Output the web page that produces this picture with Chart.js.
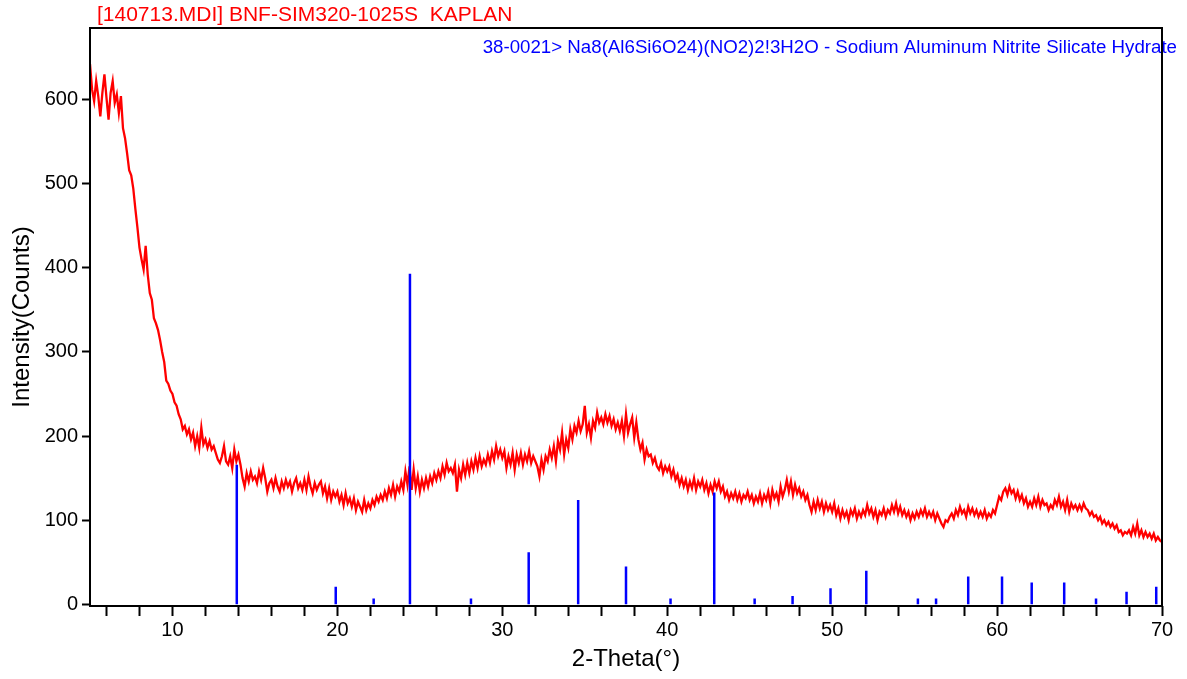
<!DOCTYPE html>
<html>
<head>
<meta charset="utf-8">
<title>XRD pattern</title>
<script src="https://cdn.jsdelivr.net/npm/chart.js@4/dist/chart.umd.min.js"></script>
<style>
  html, body { margin: 0; padding: 0; background: #fff; }
  #wrap { width: 1187px; height: 679px; position: relative; }
</style>
</head>
<body>
<div id="wrap"><canvas id="xrdChart"></canvas></div>
<script>
// Scan: 2-theta from 5 to 70 deg, one reading every 0.125 deg (8 per row)
const twoThetaStart = 5;
const twoThetaStep = 0.125;
const counts = [
  642, 612, 598, 622, 604, 580, 608, 630,   // 5
  602, 576, 608, 622, 596, 606, 584, 604,   // 6
  566, 554, 536, 516, 510, 494, 470, 448,   // 7
  424, 410, 398, 426, 392, 370, 362, 340,   // 8
  334, 326, 314, 300, 288, 266, 262, 254,   // 9
  250, 240, 236, 226, 220, 208, 212, 202,   // 10
  208, 196, 204, 188, 200, 186, 210, 190,   // 11
  196, 186, 194, 184, 188, 180, 172, 168,   // 12
  176, 188, 170, 166, 176, 162, 184, 170,   // 13
  178, 166, 150, 140, 156, 146, 158, 148,   // 14
  152, 144, 158, 148, 162, 150, 134, 144,   // 15
  148, 138, 150, 140, 134, 146, 138, 148,   // 16
  140, 146, 134, 144, 150, 138, 144, 136,   // 17
  148, 136, 152, 140, 132, 144, 136, 142,   // 18
  146, 132, 140, 126, 138, 124, 134, 128,   // 19
  134, 122, 130, 118, 132, 120, 126, 116,   // 20
  126, 112, 122, 116, 110, 124, 112, 120,   // 21
  114, 124, 118, 128, 122, 130, 124, 134,   // 22
  126, 138, 130, 142, 128, 140, 134, 146,   // 23
  136, 158, 142, 164, 136, 160, 138, 152,   // 24
  134, 148, 138, 150, 140, 152, 144, 156,   // 25
  148, 158, 150, 164, 154, 168, 158, 162,   // 26
  156, 166, 134, 160, 150, 166, 154, 168,   // 27
  156, 170, 160, 174, 162, 176, 164, 172,   // 28
  166, 178, 168, 182, 172, 188, 176, 184,   // 29
  174, 182, 162, 176, 166, 180, 160, 178,   // 30
  168, 180, 166, 178, 170, 182, 168, 176,   // 31
  170, 164, 152, 172, 160, 176, 170, 184,   // 32
  174, 188, 170, 194, 184, 204, 178, 196,   // 33
  186, 208, 196, 212, 204, 218, 206, 214,   // 34
  236, 204, 214, 198, 218, 210, 228, 216,   // 35
  222, 214, 226, 216, 224, 212, 220, 208,   // 36
  216, 206, 218, 200, 226, 204, 214, 222,   // 37
  198, 216, 196, 184, 192, 172, 184, 176,   // 38
  178, 168, 174, 164, 160, 168, 156, 164,   // 39
  158, 164, 152, 160, 148, 154, 142, 150,   // 40
  140, 148, 136, 146, 138, 150, 136, 146,   // 41
  140, 148, 136, 144, 132, 142, 134, 146,   // 42
  138, 146, 134, 140, 128, 134, 124, 132,   // 43
  126, 134, 124, 132, 122, 130, 126, 134,   // 44
  124, 130, 120, 128, 122, 132, 120, 130,   // 45
  124, 134, 120, 136, 126, 132, 122, 140,   // 46
  128, 136, 148, 134, 146, 130, 142, 132,   // 47
  138, 128, 134, 124, 130, 118, 110, 122,   // 48
  112, 124, 114, 122, 110, 120, 112, 118,   // 49
  110, 120, 106, 114, 102, 112, 104, 110,   // 50
  100, 112, 106, 114, 102, 110, 104, 112,   // 51
  106, 118, 108, 114, 104, 112, 100, 110,   // 52
  106, 114, 104, 112, 108, 118, 110, 120,   // 53
  108, 116, 106, 112, 104, 110, 100, 108,   // 54
  102, 110, 104, 112, 106, 114, 104, 110,   // 55
  104, 110, 100, 108, 102, 96, 92, 100,     // 56
  98, 104, 108, 102, 112, 106, 116, 108,    // 57
  112, 104, 116, 108, 114, 106, 112, 104,   // 58
  110, 104, 112, 102, 108, 104, 112, 108,   // 59
  118, 128, 124, 134, 138, 130, 140, 132,   // 60
  136, 126, 134, 124, 130, 120, 126, 116,   // 61
  122, 116, 126, 118, 128, 116, 124, 118,   // 62
  120, 112, 118, 114, 124, 118, 128, 116,   // 63
  122, 112, 124, 110, 120, 114, 118, 112,   // 64
  118, 112, 120, 114, 112, 106, 110, 104,   // 65
  106, 100, 104, 96, 100, 94, 98, 92,       // 66
  96, 90, 94, 86, 88, 82, 86, 84,           // 67
  88, 82, 92, 84, 96, 82, 88, 80,           // 68
  86, 80, 84, 78, 84, 76, 80, 76,           // 69
  74                                        // 70
];

// reference card 38-0021 stick lines
const refPositions = [13.9, 19.9, 22.2, 24.4, 28.1, 31.6, 34.6, 37.5, 40.2, 42.85, 45.3, 47.6,
  49.9, 52.07, 55.2, 56.3, 58.25, 60.3, 62.1, 64.07, 66.0, 67.85, 69.65];
const refHeights = [166, 21, 7, 393, 7, 62, 124, 45, 7, 133, 7, 10,
  19, 40, 7, 7, 33, 33, 26, 26, 7, 15, 21];

const xLabelValues = [10, 20, 30, 40, 50, 60, 70];
const yTickValues = [0, 100, 200, 300, 400, 500, 600];

const sampleTitle = "[140713.MDI] BNF-SIM320-1025S  KAPLAN";
const refCardLabel = "38-0021> Na8(Al6Si6O24)(NO2)2!3H2O - Sodium Aluminum Nitrite Silicate Hydrate";

const FONT = '"Liberation Sans", Arial, sans-serif';

const scanData = counts.map((c, i) => ({ x: twoThetaStart + i * twoThetaStep, y: c }));

const stickData = [];
refPositions.forEach((p, i) => {
  stickData.push({ x: p, y: 0 });
  stickData.push({ x: p, y: refHeights[i] });
  stickData.push({ x: p, y: null });
});

// box round the plot and the two header texts
const frameAndLabels = {
  id: "frameAndLabels",
  afterDraw(chart) {
    const { ctx, chartArea } = chart;
    ctx.save();
    ctx.textBaseline = "middle";
    ctx.font = "21px " + FONT;
    ctx.fillStyle = "#ff0000";
    ctx.textAlign = "left";
    ctx.fillText(sampleTitle, chartArea.left + 7, 15);
    ctx.font = "18.7px " + FONT;
    ctx.fillStyle = "#0000ff";
    ctx.textAlign = "right";
    ctx.fillText(refCardLabel, chartArea.right + 15, 48);
    ctx.strokeStyle = "#000";
    ctx.lineWidth = 2;
    ctx.strokeRect(chartArea.left, chartArea.top,
      chartArea.right - chartArea.left, chartArea.bottom - chartArea.top);
    ctx.restore();
  },
};

const ctx = document.getElementById("xrdChart").getContext("2d");
new Chart(ctx, {
  type: "line",
  data: {
    datasets: [
      {
        label: "38-0021",
        data: stickData,
        borderColor: "#0000ff",
        borderWidth: 2.5,
        pointRadius: 0,
        spanGaps: false,
        order: 0,
      },
      {
        label: "140713.MDI",
        data: scanData,
        borderColor: "#ff0000",
        borderWidth: 2.3,
        pointRadius: 0,
        tension: 0,
        order: 1,
      },
    ],
  },
  options: {
    responsive: true,
    maintainAspectRatio: false,
    animation: false,
    devicePixelRatio: 1,
    layout: { padding: { top: 28, right: 25, left: 8, bottom: 5 } },
    plugins: {
      legend: { display: false },
      tooltip: { enabled: false },
    },
    scales: {
      x: {
        type: "linear",
        min: 5,
        max: 70,
        border: { display: false },
        grid: {
          drawOnChartArea: false,
          drawTicks: true,
          tickLength: 10,
          tickWidth: 2,
          tickColor: "#000",
        },
        ticks: {
          stepSize: 2,
          includeBounds: false,
          autoSkip: false,
          maxRotation: 0,
          padding: 2,
          color: "#000",
          font: { family: FONT, size: 20 },
          callback: (v) => (xLabelValues.includes(v) ? String(v) : ""),
        },
        title: {
          display: true,
          text: "2-Theta(°)",
          color: "#000",
          font: { family: FONT, size: 24 },
          padding: 0,
        },
        afterFit: (scale) => { scale.height = 68; },
      },
      y: {
        min: -2,
        max: 685,
        border: { display: false },
        grid: {
          drawOnChartArea: false,
          drawTicks: true,
          tickLength: 8,
          tickWidth: 2,
          tickColor: "#000",
        },
        ticks: {
          stepSize: 100,
          includeBounds: false,
          padding: 4,
          color: "#000",
          font: { family: FONT, size: 20 },
          callback: (v) => (yTickValues.includes(v) ? String(v) : ""),
        },
        title: {
          display: true,
          text: "Intensity(Counts)",
          color: "#000",
          font: { family: FONT, size: 24 },
          padding: 0,
        },
        afterFit: (scale) => { scale.width = 82; },
      },
    },
  },
  plugins: [frameAndLabels],
});
</script>
</body>
</html>
